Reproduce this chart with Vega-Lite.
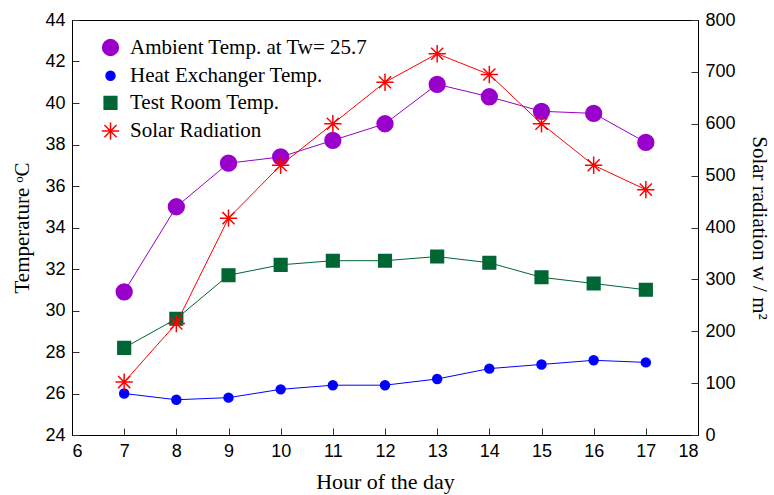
{
  "$schema": "https://vega.github.io/schema/vega-lite/v6.json",
  "width": 626,
  "height": 415,
  "autosize": "none",
  "padding": {"left": 72, "top": 20, "right": 76, "bottom": 60},
  "background": "white",
  "config": {
    "view": {"stroke": "black", "strokeWidth": 1},
    "axis": {
      "grid": false,
      "domainColor": "black",
      "tickColor": "#333",
      "tickSize": -7,
      "labelFont": "Liberation Sans",
      "labelFontSize": 18,
      "labelColor": "black",
      "titleFont": "Liberation Serif",
      "titleFontSize": 21,
      "titleFontWeight": "normal",
      "titleColor": "black"
    },
    "legend": {
      "labelFont": "Liberation Serif",
      "labelFontSize": 21,
      "labelColor": "black",
      "labelLimit": 400
    }
  },
  "data": {
    "values": [
      {"hour": 7, "series": "Ambient Temp. at Tw= 25.7", "value": 30.9},
      {"hour": 8, "series": "Ambient Temp. at Tw= 25.7", "value": 35.0},
      {"hour": 9, "series": "Ambient Temp. at Tw= 25.7", "value": 37.1},
      {"hour": 10, "series": "Ambient Temp. at Tw= 25.7", "value": 37.4},
      {"hour": 11, "series": "Ambient Temp. at Tw= 25.7", "value": 38.2},
      {"hour": 12, "series": "Ambient Temp. at Tw= 25.7", "value": 39.0},
      {"hour": 13, "series": "Ambient Temp. at Tw= 25.7", "value": 40.9},
      {"hour": 14, "series": "Ambient Temp. at Tw= 25.7", "value": 40.3},
      {"hour": 15, "series": "Ambient Temp. at Tw= 25.7", "value": 39.6},
      {"hour": 16, "series": "Ambient Temp. at Tw= 25.7", "value": 39.5},
      {"hour": 17, "series": "Ambient Temp. at Tw= 25.7", "value": 38.1},
      {"hour": 7, "series": "Heat Exchanger Temp.", "value": 26.0},
      {"hour": 8, "series": "Heat Exchanger Temp.", "value": 25.7},
      {"hour": 9, "series": "Heat Exchanger Temp.", "value": 25.8},
      {"hour": 10, "series": "Heat Exchanger Temp.", "value": 26.2},
      {"hour": 11, "series": "Heat Exchanger Temp.", "value": 26.4},
      {"hour": 12, "series": "Heat Exchanger Temp.", "value": 26.4},
      {"hour": 13, "series": "Heat Exchanger Temp.", "value": 26.7},
      {"hour": 14, "series": "Heat Exchanger Temp.", "value": 27.2},
      {"hour": 15, "series": "Heat Exchanger Temp.", "value": 27.4},
      {"hour": 16, "series": "Heat Exchanger Temp.", "value": 27.6},
      {"hour": 17, "series": "Heat Exchanger Temp.", "value": 27.5},
      {"hour": 7, "series": "Test Room Temp.", "value": 28.2},
      {"hour": 8, "series": "Test Room Temp.", "value": 29.6},
      {"hour": 9, "series": "Test Room Temp.", "value": 31.7},
      {"hour": 10, "series": "Test Room Temp.", "value": 32.2},
      {"hour": 11, "series": "Test Room Temp.", "value": 32.4},
      {"hour": 12, "series": "Test Room Temp.", "value": 32.4},
      {"hour": 13, "series": "Test Room Temp.", "value": 32.6},
      {"hour": 14, "series": "Test Room Temp.", "value": 32.3},
      {"hour": 15, "series": "Test Room Temp.", "value": 31.6},
      {"hour": 16, "series": "Test Room Temp.", "value": 31.3},
      {"hour": 17, "series": "Test Room Temp.", "value": 31.0},
      {"hour": 7, "series": "Solar Radiation", "value": 102},
      {"hour": 8, "series": "Solar Radiation", "value": 215},
      {"hour": 9, "series": "Solar Radiation", "value": 418},
      {"hour": 10, "series": "Solar Radiation", "value": 520},
      {"hour": 11, "series": "Solar Radiation", "value": 600},
      {"hour": 12, "series": "Solar Radiation", "value": 680},
      {"hour": 13, "series": "Solar Radiation", "value": 735},
      {"hour": 14, "series": "Solar Radiation", "value": 695},
      {"hour": 15, "series": "Solar Radiation", "value": 600},
      {"hour": 16, "series": "Solar Radiation", "value": 520},
      {"hour": 17, "series": "Solar Radiation", "value": 473}
    ]
  },
  "encoding": {
    "x": {
      "field": "hour",
      "type": "quantitative",
      "scale": {"domain": [6, 18], "nice": false, "zero": false},
      "axis": {"values": [6,7,8,9,10,11,12,13,14,15,16,17,18], "title": "Hour of the day", "labelPadding": 14, "titlePadding": 11, "titleFontSize": 22}
    }
  },
  "layer": [
    {
      "transform": [{"filter": "datum.series !== 'Solar Radiation'"}],
      "encoding": {
        "y": {
          "field": "value",
          "type": "quantitative",
          "scale": {"domain": [24, 44], "nice": false, "zero": false},
          "axis": {"orient": "left", "values": [24,26,28,30,32,34,36,38,40,42,44], "title": "Temperature ᵒC", "labelPadding": 14, "titlePadding": 12}
        }
      },
      "layer": [
        {
          "mark": {"type": "line", "strokeWidth": 1},
          "encoding": {
            "color": {"field": "series", "type": "nominal", "title": null,
              "scale": {"domain": ["Ambient Temp. at Tw= 25.7", "Heat Exchanger Temp.", "Test Room Temp.", "Solar Radiation"], "range": ["#9900CC", "#0000FF", "#006633", "#FF0000"]}}
          }
        },
        {
          "mark": {"type": "point", "filled": true, "opacity": 1, "strokeWidth": 1.5},
          "encoding": {
            "color": {"field": "series", "type": "nominal", "title": null,
              "scale": {"domain": ["Ambient Temp. at Tw= 25.7", "Heat Exchanger Temp.", "Test Room Temp.", "Solar Radiation"], "range": ["#9900CC", "#0000FF", "#006633", "#FF0000"]},
              "legend": {"orient": "none", "legendX": 28, "legendY": 17, "rowPadding": 5.2, "symbolOpacity": 1, "labelOffset": 9, "symbolType": "circle"}},
            "stroke": {"field": "series", "type": "nominal", "title": null,
              "scale": {"domain": ["Ambient Temp. at Tw= 25.7", "Heat Exchanger Temp.", "Test Room Temp.", "Solar Radiation"], "range": ["#9900CC", "#0000FF", "#006633", "#FF0000"]}},
            "shape": {"field": "series", "type": "nominal", "title": null,
              "scale": {"domain": ["Ambient Temp. at Tw= 25.7", "Heat Exchanger Temp.", "Test Room Temp.", "Solar Radiation"], "range": ["circle", "circle", "square", "M-1,0L1,0M0,-1L0,1M-0.7,-0.7L0.7,0.7M-0.7,0.7L0.7,-0.7"]}},
            "size": {"field": "series", "type": "nominal", "title": null,
              "scale": {"type": "ordinal", "domain": ["Ambient Temp. at Tw= 25.7", "Heat Exchanger Temp.", "Test Room Temp.", "Solar Radiation"], "range": [250, 80, 160, 300]}}
          }
        }
      ]
    },
    {
      "transform": [{"filter": "datum.series === 'Solar Radiation'"}],
      "encoding": {
        "y": {
          "field": "value",
          "type": "quantitative",
          "scale": {"domain": [0, 800], "nice": false},
          "axis": {"orient": "right", "values": [0,100,200,300,400,500,600,700,800], "title": "Solar radiation  w / m²", "labelPadding": 14, "titlePadding": 13}
        }
      },
      "layer": [
        {
          "mark": {"type": "line", "strokeWidth": 1},
          "encoding": {
            "color": {"field": "series", "type": "nominal", "title": null,
              "scale": {"domain": ["Ambient Temp. at Tw= 25.7", "Heat Exchanger Temp.", "Test Room Temp.", "Solar Radiation"], "range": ["#9900CC", "#0000FF", "#006633", "#FF0000"]}}
          }
        },
        {
          "mark": {"type": "point", "filled": true, "opacity": 1, "strokeWidth": 1.5},
          "encoding": {
            "color": {"field": "series", "type": "nominal", "title": null,
              "scale": {"domain": ["Ambient Temp. at Tw= 25.7", "Heat Exchanger Temp.", "Test Room Temp.", "Solar Radiation"], "range": ["#9900CC", "#0000FF", "#006633", "#FF0000"]}},
            "stroke": {"field": "series", "type": "nominal", "title": null,
              "scale": {"domain": ["Ambient Temp. at Tw= 25.7", "Heat Exchanger Temp.", "Test Room Temp.", "Solar Radiation"], "range": ["#9900CC", "#0000FF", "#006633", "#FF0000"]}},
            "shape": {"field": "series", "type": "nominal", "title": null,
              "scale": {"domain": ["Ambient Temp. at Tw= 25.7", "Heat Exchanger Temp.", "Test Room Temp.", "Solar Radiation"], "range": ["circle", "circle", "square", "M-1,0L1,0M0,-1L0,1M-0.7,-0.7L0.7,0.7M-0.7,0.7L0.7,-0.7"]}},
            "size": {"field": "series", "type": "nominal", "title": null,
              "scale": {"type": "ordinal", "domain": ["Ambient Temp. at Tw= 25.7", "Heat Exchanger Temp.", "Test Room Temp.", "Solar Radiation"], "range": [250, 80, 160, 300]}}
          }
        }
      ]
    }
  ],
  "resolve": {"scale": {"y": "independent"}, "axis": {"y": "independent"}}
}
